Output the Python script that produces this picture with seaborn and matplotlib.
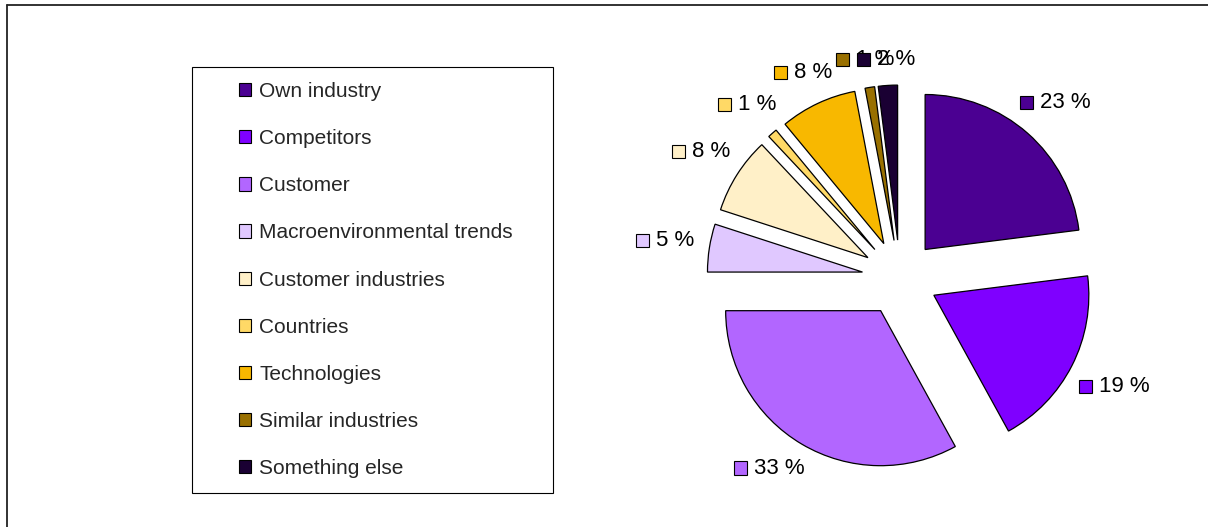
import matplotlib
matplotlib.use("Agg")
import matplotlib.pyplot as plt
import seaborn as sns
import numpy as np
from matplotlib.patches import Rectangle
from matplotlib.lines import Line2D
from matplotlib.offsetbox import AnnotationBbox, HPacker, DrawingArea, TextArea

# Sources of information, share of answers (%)
categories = [
    "Own industry",
    "Competitors",
    "Customer",
    "Macroenvironmental trends",
    "Customer industries",
    "Countries",
    "Technologies",
    "Similar industries",
    "Something else",
]
shares = [23, 19, 33, 5, 8, 1, 8, 1, 2]
colors = [
    "#4B0092",
    "#7F00FF",
    "#B266FF",
    "#E0C8FF",
    "#FFF0C8",
    "#FFD966",
    "#F8B800",
    "#997000",
    "#1A0033",
]

sns.set_style("white")
plt.rcParams["font.family"] = ["Liberation Sans", "DejaVu Sans"]

W, H = 1208, 527
fig = plt.figure(figsize=(W / 100, H / 100), dpi=100)

# square axes holding the pie; radius 1 in data units
R_PX = 155
cx, cy = 900, 278
half = 240
ax = fig.add_axes([(cx - half) / W, (H - cy - half) / H, 2 * half / W, 2 * half / H])

wedges, _ = ax.pie(
    shares,
    colors=colors,
    explode=[0.245] * len(shares),
    startangle=90,
    counterclock=False,
    radius=1,
    wedgeprops=dict(edgecolor="black", linewidth=0.9),
)
lim = half / R_PX
ax.set_xlim(-lim, lim)
ax.set_ylim(-lim, lim)
ax.set_aspect("equal")
ax.axis("off")

# value labels with colour key, centred outside each exploded slice
LOW_Y = -(468 - cy) / R_PX          # lowest label centre allowed (data units)
for w, v, c in zip(wedges, shares, colors):
    ang = np.deg2rad((w.theta1 + w.theta2) / 2)
    dx, dy = np.cos(ang), np.sin(ang)
    ex, ey = w.center
    text = f"{v} %"
    half_w = (13 + 7 + 11.5 * len(text)) / 2          # px, approx. label half width
    dist = (180 + 0.75 * abs(dx) * half_w) / R_PX
    px, py = ex + dist * dx, ey + dist * dy
    if py < LOW_Y:
        py = LOW_Y
        px = ex + np.sign(dx) * np.sqrt(max(dist ** 2 - (py - ey) ** 2, 0))
    da = DrawingArea(9.4, 9.4, 0, 0)
    da.add_artist(Rectangle((0, 0), 9.4, 9.4, fc=c, ec="black", lw=0.8))
    ta = TextArea(text, textprops=dict(fontsize=16, color="black"))
    box = HPacker(children=[da, ta], align="center", pad=0, sep=5)
    ab = AnnotationBbox(box, (px, py), xycoords="data", box_alignment=(0.5, 0.5),
                        frameon=False, pad=0, annotation_clip=False)
    ax.add_artist(ab)

# legend with its own frame
handles = [Rectangle((0, 0), 1, 1, fc=c, ec="black", lw=0.8) for c in colors]
fig.legend(handles, categories, loc="upper left",
           bbox_to_anchor=(238.5 / W, 1 - 82 / H), frameon=False, fontsize=15,
           handlelength=0.6, handleheight=0.6, handletextpad=0.4,
           labelspacing=1.35, borderpad=0, borderaxespad=0)
fig.add_artist(Rectangle((192 / W, 1 - 493 / H), 361 / W, 426 / H,
                         transform=fig.transFigure, fill=False,
                         ec="black", lw=0.8))

# chart area border (top and left edges)
fig.add_artist(Line2D([7 / W, 1], [1 - 5 / H, 1 - 5 / H], transform=fig.transFigure,
                      color="#222222", lw=1.3))
fig.add_artist(Line2D([7 / W, 7 / W], [0, 1 - 5 / H], transform=fig.transFigure,
                      color="#222222", lw=1.3))

fig.savefig("out.png", dpi=100)
